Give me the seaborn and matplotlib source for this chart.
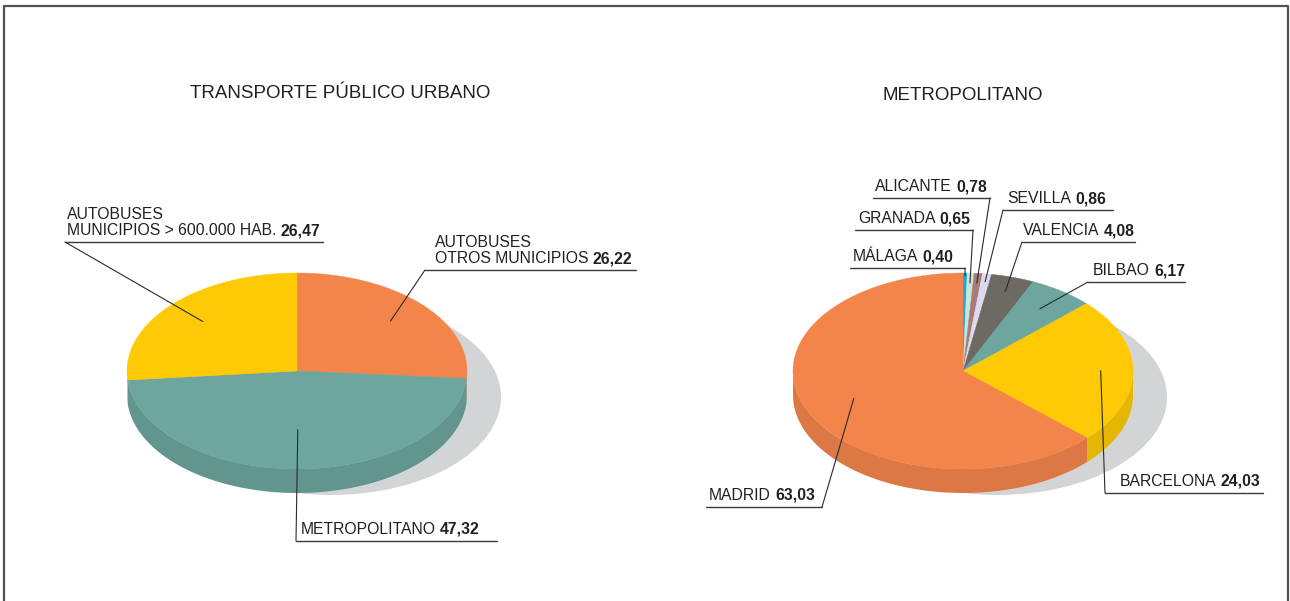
import numpy as np
import matplotlib
matplotlib.use("Agg")
import matplotlib.pyplot as plt
import matplotlib.colors as mcolors
from matplotlib.patches import Polygon, Ellipse
import seaborn as sns

# data
urbano_names = ["AUTOBUSES\nOTROS MUNICIPIOS", "METROPOLITANO", "AUTOBUSES\nMUNICIPIOS > 600.000 HAB."]
urbano_values = [26.22, 47.32, 26.47]
urbano_colors = ["#F4854A", "#6CA69E", "#FFCA05"]

metro_names = ["MÁLAGA", "GRANADA", "ALICANTE", "SEVILLA", "VALENCIA", "BILBAO", "BARCELONA", "MADRID"]
metro_values = [0.40, 0.65, 0.78, 0.86, 4.08, 6.17, 24.03, 63.03]
metro_colors = ["#1FA8E1", "#C9E7D3", "#A97A7B", "#DEDAEE", "#6D6A64", "#6CA69E", "#FFCA05", "#F4854A"]

# label layout: text x, underline y, underline x0, x1, side of leader, radius fraction
urbano_layout = [
    (435, 270, 425, 636, "left", 0.75),
    (301, 541, 296, 497, "left", 0.6),
    (67, 242, 65, 323, "left", 0.75),
]
metro_layout = [
    (853, 268, 850, 965, "right", 0.97),
    (858, 230, 855, 973, "right", 0.9),
    (875, 198, 873, 990, "right", 0.9),
    (1007, 210, 1003, 1113, "left", 0.92),
    (1023, 242, 1022, 1135, "left", 0.85),
    (1093, 282, 1088, 1185, "left", 0.78),
    (1120, 493, 1105, 1263, "left", 0.81),
    (709, 507, 706, 822, "right", 0.7),
]

TXT = "#231F20"
SHADOW = "#D3D4D6"
FS = 11.3


def darker(c, f=0.9):
    r, g, b = mcolors.to_rgb(c)
    return (r * f, g * f, b * f)


def wedge_angles(values):
    fracs = np.array(values) / np.sum(values)
    ends = 90 - np.cumsum(fracs) * 360
    starts = np.r_[90, ends[:-1]]
    return starts, ends


def draw_pie3d(ax, values, colors, cx, cy, rx, ry, depth):
    starts, ends = wedge_angles(values)
    ax.add_patch(Ellipse((cx + 34, cy + 26), 2 * rx, 2 * ry, fc=SHADOW, lw=0, zorder=1))
    # front side walls
    for a0, a1, c in zip(starts, ends, colors):
        lo, hi = max(a1, -180), min(a0, 0)
        if lo < hi:
            t = np.radians(np.linspace(lo, hi, 80))
            x = cx + rx * np.cos(t)
            y = cy - ry * np.sin(t)
            pts = np.r_[np.c_[x, y], np.c_[x[::-1], y[::-1] + depth]]
            ax.add_patch(Polygon(pts, closed=True, fc=darker(c), lw=0, zorder=2))
    # top faces
    for a0, a1, c in zip(starts, ends, colors):
        t = np.radians(np.linspace(a0, a1, 200))
        pts = np.r_[[[cx, cy]], np.c_[cx + rx * np.cos(t), cy - ry * np.sin(t)]]
        ax.add_patch(Polygon(pts, closed=True, fc=c, ec=c, lw=0.3, zorder=3))
    return starts, ends


def draw_labels(ax, names, values, layout, starts, ends, cx, cy, rx, ry):
    for name, v, (tx, uy, x0, x1, side, f), a0, a1 in zip(names, values, layout, starts, ends):
        t = ax.text(tx, uy - 4, name, fontsize=FS, color=TXT, va="bottom", ha="left",
                    linespacing=1.05, zorder=5)
        ax.annotate(f"{v:.2f}".replace(".", ","), xy=(1, 0), xycoords=t,
                    xytext=(3, 0), textcoords="offset points",
                    fontsize=FS, fontweight="bold", color=TXT, va="bottom", ha="left", zorder=5)
        ax.plot([x0, x1], [uy, uy], color="#3C3C3C", lw=1.0, zorder=5)
        mid = np.radians((a0 + a1) / 2)
        px = cx + f * rx * np.cos(mid)
        py = cy - f * ry * np.sin(mid)
        sx = x0 if side == "left" else x1
        ax.plot([sx, px], [uy, py], color="#2A2A2A", lw=0.8, zorder=5)


sns.set_theme(style="white")
plt.rcParams["font.family"] = ["Liberation Sans", "DejaVu Sans"]

fig = plt.figure(figsize=(12.9, 6.01), dpi=100)
ax = fig.add_axes([0, 0, 1, 1])
ax.set_xlim(0, 1290)
ax.set_ylim(601, 0)
ax.axis("off")

# frame
ax.plot([4, 4, 1288, 1288], [605, 6, 6, 605], color="#505050", lw=1.6, zorder=6)

rx, ry, depth = 170, 98, 24
s, e = draw_pie3d(ax, urbano_values, urbano_colors, 297, 371, rx, ry, depth)
draw_labels(ax, urbano_names, urbano_values, urbano_layout, s, e, 297, 371, rx, ry)

s, e = draw_pie3d(ax, metro_values, metro_colors, 963, 371, rx, ry, depth)
draw_labels(ax, metro_names, metro_values, metro_layout, s, e, 963, 371, rx, ry)

ax.text(340, 98, "TRANSPORTE PÚBLICO URBANO", fontsize=13.5, color=TXT, ha="center", va="baseline")
ax.text(963, 100, "METROPOLITANO", fontsize=13.5, color=TXT, ha="center", va="baseline")

fig.savefig("out.png", dpi=100)
